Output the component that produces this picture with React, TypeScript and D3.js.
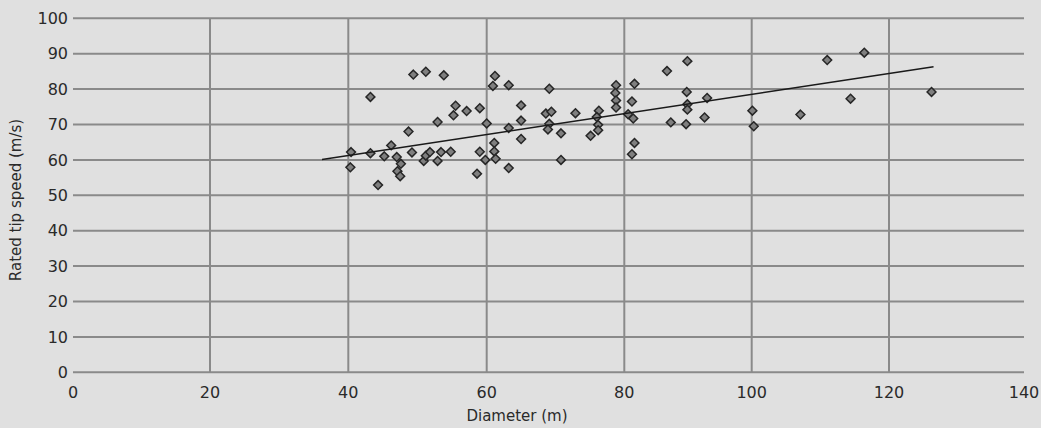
import React from "react";
import * as d3 from "d3";

const diameters = [
  40.4, 40.3, 43.2, 43.2, 44.3, 45.2, 46.2, 47.0, 47.6, 47.1, 47.5, 48.7, 49.4, 49.2, 51.2, 53.8,
  50.9, 51.2, 51.8, 52.9, 52.9, 53.4, 54.8, 55.5, 55.2, 57.1, 59.0, 59.0, 58.6, 59.8, 60.0, 61.2,
  60.9, 61.1, 61.1, 61.3, 63.2, 63.2, 63.2, 65.0, 65.0, 65.0, 69.1, 68.6, 69.4, 69.1, 68.9, 70.8,
  70.8, 72.9, 75.1, 76.3, 76.0, 76.2, 76.2, 78.8, 78.7, 78.8, 78.8, 81.6, 81.2, 80.6, 81.4, 81.6,
  81.2, 86.7, 87.3, 89.9, 89.8, 89.9, 89.9, 89.7, 92.6, 93.0, 100.1, 100.3, 107.1, 111.0, 114.4,
  116.4, 126.3,
];
const tipSpeeds = [
  62.2, 57.9, 77.8, 61.9, 52.9, 61.0, 64.1, 60.8, 58.9, 56.8, 55.4, 68.0, 84.1, 62.1, 84.9, 83.9,
  59.7, 61.2, 62.2, 70.7, 59.7, 62.2, 62.3, 75.3, 72.6, 73.8, 74.6, 62.3, 56.1, 60.0, 70.3, 83.7,
  80.9, 64.8, 62.4, 60.3, 81.1, 69.0, 57.7, 75.4, 71.1, 65.9, 80.1, 73.1, 73.6, 70.2, 68.6, 67.5,
  60.0, 73.2, 66.8, 73.9, 72.1, 69.9, 68.4, 81.1, 78.9, 76.8, 74.8, 81.5, 76.5, 72.9, 71.7, 64.8,
  61.6, 85.1, 70.6, 87.9, 79.2, 75.7, 74.2, 70.1, 72.0, 77.5, 73.9, 69.5, 72.8, 88.2, 77.3, 90.3,
  79.2,
];
const trendX = [36.2, 126.6];
const trendY = [60.1, 86.3];
const xTicks = [0, 20, 40, 60, 80, 100, 120, 140];
const yTicks = [0, 10, 20, 30, 40, 50, 60, 70, 80, 90, 100];
const xTitle = "Diameter (m)";
const yTitle = "Rated tip speed (m/s)";

const W = 1041;
const H = 428;
const FONT = "'DejaVu Sans', sans-serif";

export default function App() {
  const x = d3
    .scaleLinear()
    .domain(xTicks)
    .range([73, 210, 348.3, 486.7, 624.3, 751.7, 889, 1024]);
  const y = d3.scaleLinear().domain([0, 100]).range([372.3, 18.3]);

  const points = diameters.map((d, i) => ({ d, v: tipSpeeds[i] }));
  const diamond = d3.symbol().type(d3.symbolDiamond2).size(50)();
  const trend = d3
    .line<number>()
    .x((d) => x(d))
    .y((_, i) => y(trendY[i]))(trendX);

  return (
    <svg
      width={W}
      height={H}
      style={{ position: "absolute", left: 0, top: 0, display: "block" }}
    >
      <rect x={0} y={0} width={W} height={H} fill="#e0e0e0" />
      {yTicks.map((t) => (
        <line
          key={"h" + t}
          x1={x(0)}
          x2={x(140)}
          y1={y(t)}
          y2={y(t)}
          stroke="#8a8a8a"
          strokeWidth={2}
        />
      ))}
      {xTicks
        .filter((t) => t > 0 && t < 140)
        .map((t) => (
          <line
            key={"v" + t}
            x1={x(t)}
            x2={x(t)}
            y1={y(100)}
            y2={y(0)}
            stroke="#8a8a8a"
            strokeWidth={2}
          />
        ))}
      {yTicks.map((t) => (
        <text
          key={"yl" + t}
          x={68}
          y={y(t)}
          dy="0.36em"
          textAnchor="end"
          fontFamily={FONT}
          fontSize={16}
          fill="#2a2a2a"
        >
          {t}
        </text>
      ))}
      {xTicks.map((t) => (
        <text
          key={"xl" + t}
          x={x(t)}
          y={398}
          textAnchor="middle"
          fontFamily={FONT}
          fontSize={16}
          fill="#2a2a2a"
        >
          {t}
        </text>
      ))}
      <text
        x={517}
        y={421}
        textAnchor="middle"
        fontFamily={FONT}
        fontSize={15}
        fill="#2a2a2a"
      >
        {xTitle}
      </text>
      <text
        transform={`translate(21,${200}) rotate(-90)`}
        textAnchor="middle"
        fontFamily={FONT}
        fontSize={15}
        fill="#2a2a2a"
      >
        {yTitle}
      </text>
      {points.map((p, i) => (
        <path
          key={"p" + i}
          d={diamond as string}
          transform={`translate(${x(p.d)},${y(p.v)})`}
          fill="#7f7f7f"
          stroke="#262626"
          strokeWidth={1.5}
        />
      ))}
      <path d={trend as string} fill="none" stroke="#1a1a1a" strokeWidth={1.5} />
    </svg>
  );
}
